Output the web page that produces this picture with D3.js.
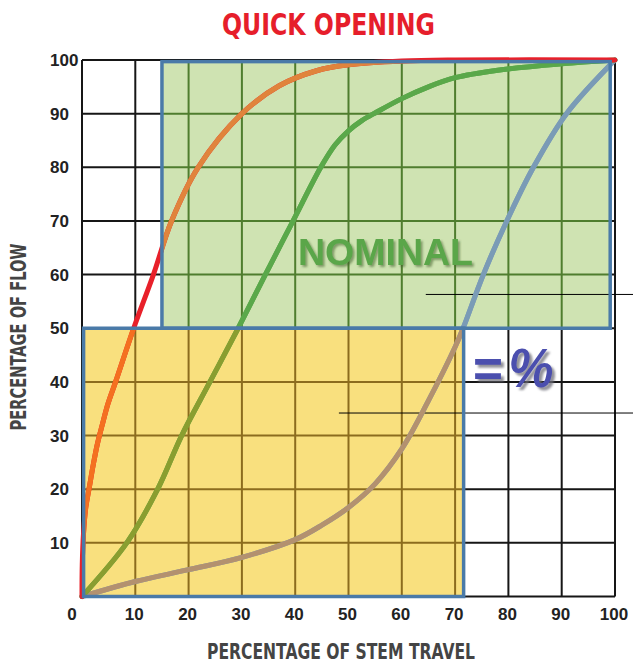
<!DOCTYPE html>
<html>
<head>
<meta charset="utf-8">
<script src="https://cdn.jsdelivr.net/npm/d3@7/dist/d3.min.js"></script>
<style>
  html, body { margin: 0; padding: 0; background: #fff; }
  svg { display: block; }
</style>
</head>
<body>
<svg id="chart" width="633" height="664"></svg>
<script>
// ---------- DATA ----------
const xTicks = [0, 10, 20, 30, 40, 50, 60, 70, 80, 90, 100];
const yTicks = [10, 20, 30, 40, 50, 60, 70, 80, 90, 100];

// Quick opening characteristic (stem travel %, flow %)
const quickTravel = [0, 0.05, 0.3, 0.7, 1.4, 2.1, 2.9, 3.8, 4.9, 6.3, 9.7, 13.4, 16.8, 21.8, 30, 37, 44, 50, 60, 70, 100];
const quickFlow   = [0, 6,    12,  16.5, 20.5, 24.5, 28.5, 32, 36, 40, 50, 60,   70,   80,   90, 95.2, 98, 99.1, 99.8, 100, 100];

// Linear characteristic
const linearTravel = [0, 8.4, 14.2, 18.7, 24, 29.3, 34.4, 39.6, 44.8, 47.5, 50, 52.5, 55.3, 60, 65, 70, 78, 90, 100];
const linearFlow   = [0, 10,  20,   30,   40, 50,   60,   70,   80,   84.2, 86.8, 88.7, 90.3, 92.8, 95, 96.7, 98.1, 99.3, 100];

// Equal percentage characteristic
const eqTravel = [0, 10, 20, 30, 40, 45, 50, 55, 60, 65, 70, 71.5, 75.3, 79.7, 84.7, 90.9, 100];
const eqFlow   = [0, 2.8, 5, 7.3, 10.6, 13.3, 16.6, 21, 27.5, 36.5, 46.5, 50, 60, 70, 80, 90, 100];

// Shaded regions [x0, x1, y0, y1] in data units
const nominalRegion = [15, 99.1, 50, 99.7];
const eqRegion      = [0.3, 71.6, 0, 50];

// Leader lines (flow level, starting travel)
const leaderFlow  = [56.3, 34.2];
const leaderStart = [64.5, 48.2];
const leaderEnd   = 103.5;

// ---------- LAYOUT ----------
const svg = d3.select("#chart");
const x = d3.scaleLinear().domain([0, 100]).range([82, 615]);
const y = d3.scaleLinear().domain([0, 100]).range([596.5, 60]);

const condensed = "'Liberation Sans Narrow', 'DejaVu Sans Condensed', 'Roboto Condensed', 'Arial Narrow', sans-serif";
const sans = "'Liberation Sans', Arial, Helvetica, sans-serif";

const defs = svg.append("defs");
function addClip(id, r) {
  defs.append("clipPath").attr("id", id).append("rect")
    .attr("x", x(r[0])).attr("y", y(r[3]))
    .attr("width", x(r[1]) - x(r[0])).attr("height", y(r[2]) - y(r[3]));
}
addClip("clipNom", nominalRegion);
addClip("clipEq", eqRegion);

function addShadow(id, dx, color, opacity, blur) {
  defs.append("filter").attr("id", id)
    .attr("x", "-10%").attr("y", "-20%").attr("width", "130%").attr("height", "150%")
    .append("feDropShadow")
    .attr("dx", dx).attr("dy", dx).attr("stdDeviation", blur)
    .attr("flood-color", color).attr("flood-opacity", opacity);
}
addShadow("shNom", 2, "#3f5f2c", 0.55, 0.8);
addShadow("shEq", 3, "#6e6e78", 0.75, 0.8);

function drawGrid(g, color) {
  g.selectAll("line.v").data(xTicks).join("line").attr("class", "v")
    .attr("x1", d => x(d)).attr("x2", d => x(d))
    .attr("y1", y(0)).attr("y2", y(100))
    .attr("stroke", color).attr("stroke-width", 2);
  g.selectAll("line.h").data([0].concat(yTicks)).join("line").attr("class", "h")
    .attr("x1", x(0)).attr("x2", x(100))
    .attr("y1", d => y(d)).attr("y2", d => y(d))
    .attr("stroke", color).attr("stroke-width", 2);
}

// base black grid
drawGrid(svg.append("g"), "#161616");

// region fills
function regionRect(r) {
  return svg.append("rect")
    .attr("x", x(r[0])).attr("y", y(r[3]))
    .attr("width", x(r[1]) - x(r[0])).attr("height", y(r[2]) - y(r[3]));
}
regionRect(nominalRegion).attr("fill", "#cfe3b2");
regionRect(eqRegion).attr("fill", "#f9e07e");

// tinted grid inside regions
drawGrid(svg.append("g").attr("clip-path", "url(#clipNom)"), "#4f7d2e");
drawGrid(svg.append("g").attr("clip-path", "url(#clipEq)"), "#8c6c1e");

// leader lines
leaderFlow.forEach((f, i) => {
  svg.append("line")
    .attr("x1", x(leaderStart[i])).attr("x2", x(leaderEnd))
    .attr("y1", y(f)).attr("y2", y(f))
    .attr("stroke", "#000").attr("stroke-width", 1);
});

// NOMINAL label
svg.append("text").text("NOMINAL")
  .attr("x", 385.5).attr("y", 265).attr("text-anchor", "middle")
  .attr("font-family", sans).attr("font-weight", "bold").attr("font-size", 37)
  .attr("textLength", 175).attr("lengthAdjust", "spacingAndGlyphs")
  .attr("fill", "#5aa64a").attr("filter", "url(#shNom)");

// curves
const line = d3.line().x(d => x(d[0])).y(d => y(d[1])).curve(d3.curveCatmullRom.alpha(0.5));
function curve(tx, fy, outside, inNom, inEq) {
  const pts = tx.map((t, i) => [t, fy[i]]);
  const d = line(pts);
  svg.append("path").attr("d", d).attr("fill", "none")
    .attr("stroke", outside).attr("stroke-width", 5).attr("stroke-linecap", "round");
  svg.append("path").attr("d", d).attr("fill", "none").attr("clip-path", "url(#clipNom)")
    .attr("stroke", inNom).attr("stroke-width", 5).attr("stroke-linecap", "round");
  svg.append("path").attr("d", d).attr("fill", "none").attr("clip-path", "url(#clipEq)")
    .attr("stroke", inEq).attr("stroke-width", 5).attr("stroke-linecap", "round");
}
curve(eqTravel, eqFlow, "#7a9bb6", "#7a9bb6", "#b3916f");
curve(linearTravel, linearFlow, "#5aa84a", "#5aa84a", "#8a9e30");
curve(quickTravel, quickFlow, "#e8202a", "#e0843c", "#f47020");

// region borders
function border(r) {
  regionRect(r).attr("fill", "none").attr("stroke", "#4a7aa8").attr("stroke-width", 3.5);
}
border(nominalRegion);
border(eqRegion);

// "=%" label
const eqLabel = svg.append("g").attr("filter", "url(#shEq)").attr("fill", "#4b4fae")
  .attr("font-family", sans).attr("font-weight", "bold");
eqLabel.append("text").text("=")
  .attr("x", 488).attr("y", 387).attr("text-anchor", "middle")
  .attr("font-size", 54)
  .attr("textLength", 30).attr("lengthAdjust", "spacingAndGlyphs");
eqLabel.append("text").text("%")
  .attr("x", 531).attr("y", 387).attr("text-anchor", "middle")
  .attr("font-style", "italic").attr("font-size", 56)
  .attr("textLength", 45).attr("lengthAdjust", "spacingAndGlyphs");

// tick labels
svg.append("g").selectAll("text").data(yTicks).join("text")
  .text(d => d)
  .attr("x", 50).attr("y", d => y(d)).attr("dy", "0.36em")
  .attr("font-family", sans).attr("font-weight", "bold").attr("font-size", 17)
  .attr("fill", "#222");
svg.append("g").selectAll("text").data(xTicks).join("text")
  .text(d => d)
  .attr("x", d => d === 0 ? x(d) - 10 : x(d) - 1).attr("y", 620)
  .attr("text-anchor", "middle")
  .attr("font-family", sans).attr("font-weight", "bold").attr("font-size", 17)
  .attr("fill", "#222");

// titles
svg.append("text").text("QUICK OPENING")
  .attr("x", 328.5).attr("y", 35).attr("text-anchor", "middle")
  .attr("font-family", condensed).attr("font-weight", "bold").attr("font-size", 31)
  .attr("textLength", 213).attr("lengthAdjust", "spacingAndGlyphs")
  .attr("fill", "#e61e2b");
svg.append("text").text("PERCENTAGE OF STEM TRAVEL")
  .attr("x", 341).attr("y", 659).attr("text-anchor", "middle")
  .attr("font-family", condensed).attr("font-weight", "bold").attr("font-size", 21)
  .attr("textLength", 268).attr("lengthAdjust", "spacingAndGlyphs")
  .attr("fill", "#444");
svg.append("text").text("PERCENTAGE OF FLOW")
  .attr("transform", "translate(26,337) rotate(-90)")
  .attr("text-anchor", "middle")
  .attr("font-family", condensed).attr("font-weight", "bold").attr("font-size", 22)
  .attr("textLength", 187).attr("lengthAdjust", "spacingAndGlyphs")
  .attr("fill", "#444");
</script>
</body>
</html>
